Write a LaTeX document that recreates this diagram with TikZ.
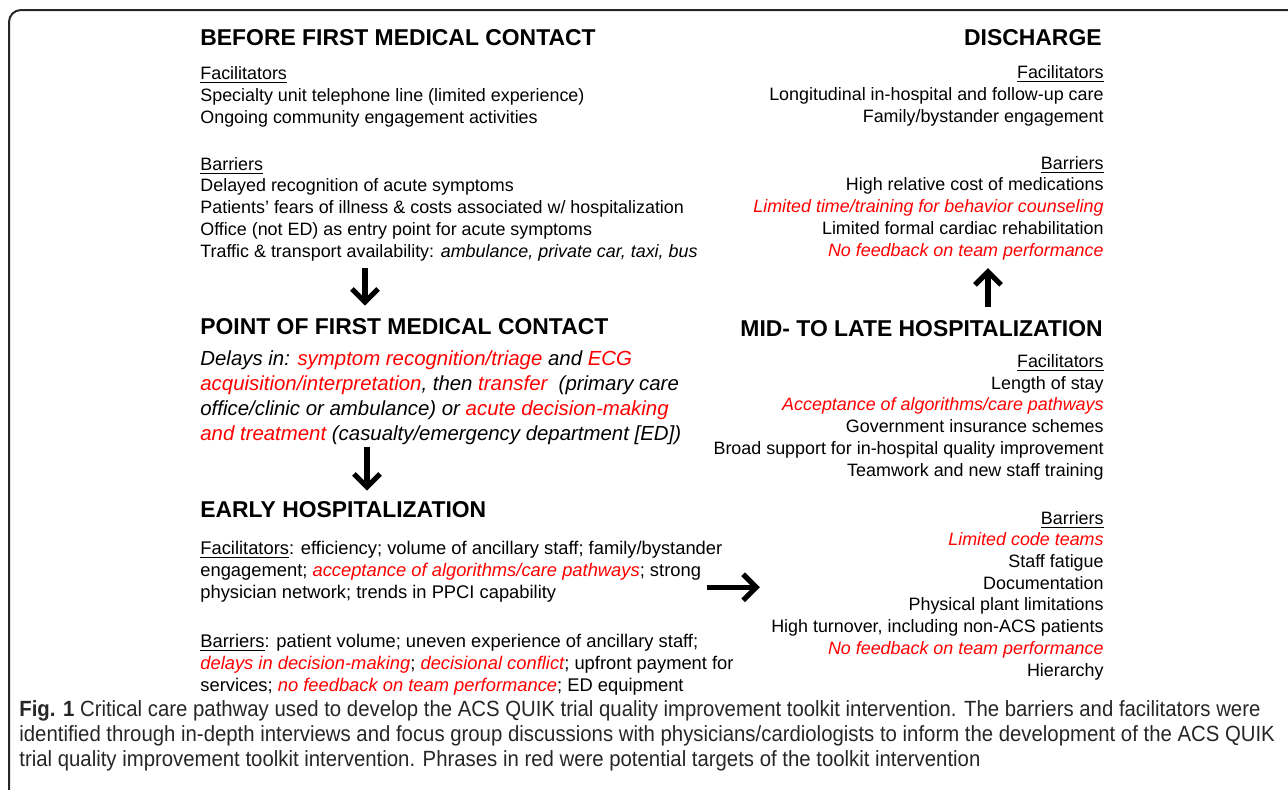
\documentclass[tikz,border=0pt]{standalone}
\usepackage{fontspec}
\setmainfont{Liberation Sans}
\newfontfamily\capfont[FakeStretch=0.925]{Liberation Sans}
\usetikzlibrary{arrows.meta, positioning}
\definecolor{target}{RGB}{255,0,0}
\newcommand{\redit}[1]{\textcolor{target}{\itshape #1}}

\begin{document}
\begin{tikzpicture}[
    x=0.5pt, y=-0.5pt,
    stage/.style={inner sep=0pt, font=\fontsize{11.45}{13}\selectfont\bfseries},
    body/.style={inner sep=0pt, font=\fontsize{8.95}{10.85}\selectfont},
    note/.style={inner sep=0pt, font=\fontsize{10.2}{12.5}\selectfont\itshape},
    caption/.style={inner sep=0pt, anchor=base west, text=black!85, font=\capfont\fontsize{11}{12.5}\selectfont},
    arrow/.style={line width=2.6pt, -{Straight Barb[length=6.5pt,width=13pt]}}
]
\useasboundingbox (0,0) rectangle (1288,789);
\clip (0,0) rectangle (1288,789);
\draw[line width=1pt, draw=black!85, rounded corners=6pt] (9,10) rectangle (1320,820);

\node[stage, anchor=base west] (before) at (200,45) {BEFORE FIRST MEDICAL CONTACT};
\node[body, anchor=base west, align=left] (beforetxt) at (200,257) {\underline{Facilitators}\\
    Specialty unit telephone line (limited experience)\\
    Ongoing community engagement activities\\[12.7pt]
    \underline{Barriers}\\
    Delayed recognition of acute symptoms\\
    Patients’ fears of illness \& costs associated w/ hospitalization\\
    Office (not ED) as entry point for acute symptoms\\
    Traffic \& transport availability: \textit{ambulance, private car, taxi, bus}};

\node[stage, anchor=base west] (contact) at (200,334) {POINT OF FIRST MEDICAL CONTACT};
\node[note, anchor=base west, align=left] (contacttxt) at (200,440) {Delays in: \redit{symptom recognition/triage} and \redit{ECG}\\
    \redit{acquisition/interpretation}, then \redit{transfer}~ (primary care\\
    office/clinic or ambulance) or \redit{acute decision-making}\\
    \redit{and treatment} (casualty/emergency department [ED])};

\node[stage, anchor=base west] (early) at (200,517) {EARLY HOSPITALIZATION};
\node[body, anchor=base west, align=left, font=\fontsize{9.17}{11}\selectfont] (earlyfac) at (200,598) {\underline{Facilitators}: efficiency; volume of ancillary staff; family/bystander\\
    engagement; \redit{acceptance of algorithms/care pathways}; strong\\
    physician network; trends in PPCI capability};
\node[body, anchor=base west, align=left, font=\fontsize{9.17}{11}\selectfont] (earlybar) at (200,691) {\underline{Barriers}: patient volume; uneven experience of ancillary staff;\\
    \redit{delays in decision-making}; \redit{decisional conflict}; upfront payment for\\
    services; \redit{no feedback on team performance}; ED equipment};

\node[stage, anchor=base east] (discharge) at (1102,45) {DISCHARGE};
\node[body, anchor=base east, align=right] (dischargetxt) at (1104,256) {\underline{Facilitators}\\
    Longitudinal in-hospital and follow-up care\\
    Family/bystander engagement\\[12.7pt]
    \underline{Barriers}\\
    High relative cost of medications\\
    \redit{Limited time/training for behavior counseling}\\
    Limited formal cardiac rehabilitation\\
    \redit{No feedback on team performance}};

\node[stage, anchor=base east] (midlate) at (1103,336) {MID- TO LATE HOSPITALIZATION};
\node[body, anchor=base east, align=right] (midfac) at (1104,476) {\underline{Facilitators}\\
    Length of stay\\
    \redit{Acceptance of algorithms/care pathways}\\
    Government insurance schemes\\
    Broad support for in-hospital quality improvement\\
    Teamwork and new staff training};
\node[body, anchor=base east, align=right] (midbar) at (1104,676) {\underline{Barriers}\\
    \redit{Limited code teams}\\
    Staff fatigue\\
    Documentation\\
    Physical plant limitations\\
    High turnover, including non-ACS patients\\
    \redit{No feedback on team performance}\\
    Hierarchy};

\coordinate (d1) at ([shift={(165,7)}]beforetxt.south west);
\draw[arrow, shorten >=6pt] (d1) -- (d1 |- contact.north);
\coordinate (d2) at ([shift={(167,2)}]contacttxt.south west);
\draw[arrow, shorten >=5pt] (d2) -- (d2 |- early.north);
\coordinate (u1) at ([shift={(-115,-13)}]midlate.north east);
\draw[arrow, shorten >=4pt] (u1) -- (u1 |- dischargetxt.south);
\coordinate (r1) at ([shift={(-16,16)}]earlyfac.east);
\draw[arrow, shorten >=5.5pt] (r1) -- (r1 -| midbar.west);

\node[caption] (cap1) at (19,716) {\textbf{Fig. 1} Critical care pathway used to develop the ACS QUIK trial quality improvement toolkit intervention. The barriers and facilitators were};
\node[caption] (cap2) at (19,741) {identified through in-depth interviews and focus group discussions with physicians/cardiologists to inform the development of the ACS QUIK};
\node[caption] (cap3) at (19,766) {trial quality improvement toolkit intervention. Phrases in red were potential targets of the toolkit intervention};
\end{tikzpicture}
\end{document}
